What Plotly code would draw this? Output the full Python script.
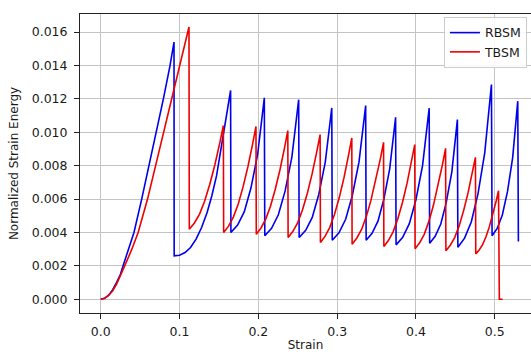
import plotly.graph_objects as go

# RBSM: normalized strain energy vs. strain
rbsm_strain = [
    0.0, 0.005, 0.01, 0.015, 0.02, 0.025, 0.0283, 0.035, 0.0422, 0.052, 0.0613, 0.0705, 0.0795, 0.088, 0.0930,
    0.0932, 0.100, 0.107, 0.114, 0.121, 0.128, 0.135, 0.141, 0.147, 0.153, 0.159, 0.1648,
    0.1652, 0.1737, 0.1822, 0.1906, 0.1991, 0.2034, 0.2076,
    0.2082, 0.2168, 0.2254, 0.2340, 0.2426, 0.2469, 0.2512,
    0.2518, 0.2601, 0.2684, 0.2766, 0.2849, 0.2891, 0.2932,
    0.2938, 0.3023, 0.3108, 0.3192, 0.3277, 0.3320, 0.3362,
    0.3368, 0.3443, 0.3518, 0.3592, 0.3667, 0.3705, 0.3742,
    0.3748, 0.3832, 0.3916, 0.4000, 0.4084, 0.4126, 0.4168,
    0.4174, 0.4244, 0.4315, 0.4385, 0.4456, 0.4491, 0.4526,
    0.4532, 0.4617, 0.4702, 0.4788, 0.4873, 0.4915, 0.4958,
    0.4966, 0.5031, 0.5096, 0.5162, 0.5227, 0.5259, 0.5292,
    0.5300,
]
rbsm_energy = [
    0.0, 0.00006, 0.00025, 0.00056, 0.001, 0.0015, 0.002, 0.0029, 0.004, 0.006, 0.008, 0.010, 0.012, 0.014, 0.0154,
    0.0026, 0.00264, 0.0028, 0.0031, 0.0036, 0.0043, 0.0052, 0.0062, 0.0074, 0.0091, 0.0107, 0.0125,
    0.0040, 0.00444, 0.00525, 0.00666, 0.00867, 0.01029, 0.01206,
    0.0038, 0.00425, 0.00506, 0.00649, 0.00853, 0.01016, 0.01195,
    0.0037, 0.00413, 0.0049, 0.00626, 0.0082, 0.00975, 0.01146,
    0.00354, 0.00398, 0.00479, 0.0062, 0.00821, 0.00983, 0.0116,
    0.00354, 0.00395, 0.00468, 0.00597, 0.00781, 0.00928, 0.0109,
    0.00326, 0.00371, 0.00453, 0.00596, 0.008, 0.00964, 0.01144,
    0.00336, 0.00377, 0.00451, 0.0058, 0.00765, 0.00913, 0.01076,
    0.00312, 0.00366, 0.00463, 0.00633, 0.00877, 0.01072, 0.01286,
    0.0038, 0.00424, 0.00505, 0.00646, 0.00847, 0.01009, 0.01186,
    0.00346,
]

# TBSM: normalized strain energy vs. strain
tbsm_strain = [
    0.0, 0.005, 0.01, 0.015, 0.02, 0.025, 0.0304, 0.0395, 0.0475, 0.0594, 0.0696, 0.0804, 0.0904, 0.1004, 0.1120,
    0.1124, 0.1189, 0.1254, 0.1318, 0.1383, 0.1448, 0.1513, 0.1556,
    0.1560, 0.1622, 0.1683, 0.1745, 0.1806, 0.1868, 0.1929, 0.1970,
    0.1974, 0.2034, 0.2094, 0.2154, 0.2214, 0.2274, 0.2334, 0.2374,
    0.2378, 0.2439, 0.2500, 0.2561, 0.2622, 0.2683, 0.2743, 0.2784,
    0.2788, 0.2848, 0.2907, 0.2967, 0.3027, 0.3087, 0.3146, 0.3186,
    0.3190, 0.3250, 0.3310, 0.3370, 0.3429, 0.3489, 0.3549, 0.3589,
    0.3593, 0.3652, 0.3710, 0.3769, 0.3828, 0.3887, 0.3946, 0.3985,
    0.3989, 0.4047, 0.4105, 0.4163, 0.4221, 0.4279, 0.4337, 0.4376,
    0.4380, 0.4436, 0.4493, 0.4549, 0.4605, 0.4661, 0.4718, 0.4755,
    0.4759, 0.4802, 0.4846, 0.4889, 0.4932, 0.4976, 0.5019, 0.5048,
    0.5058, 0.5100,
]
tbsm_energy = [
    0.0, 0.00006, 0.00024, 0.0005, 0.0009, 0.0014, 0.002, 0.003, 0.004, 0.006, 0.008, 0.010, 0.012, 0.014, 0.0163,
    0.0042, 0.00457, 0.0051, 0.00587, 0.00687, 0.00804, 0.00941, 0.0104,
    0.0040, 0.00438, 0.00492, 0.00571, 0.00673, 0.00794, 0.00933, 0.01035,
    0.0039, 0.00427, 0.0048, 0.00557, 0.00657, 0.00774, 0.00911, 0.0101,
    0.0037, 0.00407, 0.00459, 0.00536, 0.00635, 0.00752, 0.00887, 0.00986,
    0.0034, 0.00378, 0.00431, 0.00509, 0.00609, 0.00728, 0.00866, 0.00966,
    0.0033, 0.00367, 0.00418, 0.00495, 0.00592, 0.00708, 0.00842, 0.0094,
    0.00316, 0.00353, 0.00404, 0.00481, 0.00578, 0.00694, 0.00828, 0.00926,
    0.00302, 0.00338, 0.00389, 0.00465, 0.00561, 0.00675, 0.00808, 0.00904,
    0.0029, 0.00324, 0.00371, 0.00441, 0.00531, 0.00637, 0.0076, 0.0085,
    0.00272, 0.00295, 0.00327, 0.00374, 0.00435, 0.00506, 0.0059, 0.0065,
    0.0, 0.0,
]

font_family = "DejaVu Sans"
text_color = "#1a1a1a"

fig = go.Figure()
fig.add_trace(go.Scatter(x=rbsm_strain, y=rbsm_energy, mode="lines", name="RBSM",
                         line=dict(color="#0000ee", width=1.6)))
fig.add_trace(go.Scatter(x=tbsm_strain, y=tbsm_energy, mode="lines", name="TBSM",
                         line=dict(color="#ee0000", width=1.6)))

axis_common = dict(
    showgrid=True, gridcolor="#c4c4c4", gridwidth=1,
    showline=True, linecolor="#222222", linewidth=1,
    ticks="outside", ticklen=5, tickcolor="#222222", tickwidth=1,
    tickfont=dict(family=font_family, size=12.5, color=text_color),
    zeroline=False,
)

fig.update_layout(
    width=531, height=352,
    margin=dict(l=80, r=0, t=14, b=39),
    paper_bgcolor="white", plot_bgcolor="white",
    font=dict(family=font_family, size=12, color=text_color),
    xaxis=dict(axis_common, range=[-0.0263, 0.546], dtick=0.1, tick0=0, tickformat=".1f",
               mirror=True, ticklabelstandoff=2,
               title=dict(text="Strain", standoff=2,
                          font=dict(family=font_family, size=12, color=text_color))),
    yaxis=dict(axis_common, range=[-0.00082, 0.01708], dtick=0.002, tick0=0, tickformat=".3f",
               ticklabelstandoff=4,
               title=dict(text="Normalized Strain Energy", standoff=10,
                          font=dict(family=font_family, size=12, color=text_color))),
    legend=dict(x=0.807, y=0.99, xanchor="left", yanchor="top",
                bgcolor="rgba(255,255,255,0.85)", bordercolor="#cccccc", borderwidth=1,
                font=dict(family=font_family, size=12.5, color=text_color),
                itemwidth=30, entrywidth=110, tracegroupgap=0),
    showlegend=True,
)

fig.write_html("out.html")
